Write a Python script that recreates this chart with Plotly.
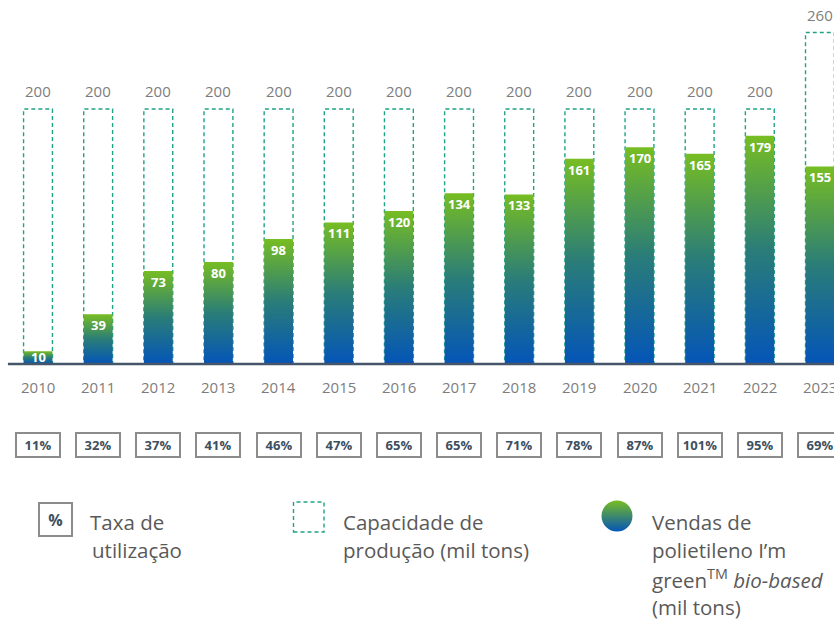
import plotly.graph_objects as go

years = ["2010", "2011", "2012", "2013", "2014", "2015", "2016",
         "2017", "2018", "2019", "2020", "2021", "2022", "2023"]
vendas = [10, 39, 73, 80, 98, 111, 120, 134, 133, 161, 170, 165, 179, 155]
capacidade = [200, 200, 200, 200, 200, 200, 200, 200, 200, 200, 200, 200, 200, 260]
utilizacao = ["11%", "32%", "37%", "41%", "46%", "47%", "65%", "65%", "71%",
              "78%", "87%", "101%", "95%", "69%"]

W, H = 834, 620
FONT = "Open Sans"
BLUE = "#0455b8"
GREEN = "#77bd22"
TEAL = "#1fa384"
GRAY_TXT = "#7d7d7d"
DARK = "#3d4f60"
BOX_GRAY = "#8c8c8c"
LEG_TXT = "#595959"

PITCH = 60.15      # px per category
PXU = 1.275        # px per unit (mil tons)
X0PX, BASEPX = 38, 364
HALF = 0.24        # bar half width in category units


def px(p):
    return p / W


def py(p):
    return 1 - p / H


fig = go.Figure()

shapes = []
annotations = []
for i, (yr, v, c, u) in enumerate(zip(years, vendas, capacidade, utilizacao)):
    # capacity dashed box
    shapes.append(dict(type="rect", xref="x", yref="y", x0=i - HALF, x1=i + HALF,
                       y0=0, y1=c, layer="below",
                       line=dict(color=TEAL, width=1.4, dash="4px,3px")))
    # sales bar with gradient
    fig.add_trace(go.Scatter(
        x=[i - HALF, i + HALF, i + HALF, i - HALF, i - HALF],
        y=[0, 0, v, v, 0], mode="lines", fill="toself",
        line=dict(width=0, color=GREEN),
        fillgradient=dict(type="vertical", start=0, stop=v,
                          colorscale=[[0, BLUE], [0.5, "#2a7d78"], [1, GREEN]]),
        hoverinfo="skip", showlegend=False))
    # value label (kept inside the bar, above the baseline)
    shift = -min(11, v * PXU - 7)
    annotations.append(dict(x=i, y=v, xref="x", yref="y", text=f"<b>{v}</b>",
                            showarrow=False, yshift=shift, xanchor="center", yanchor="middle",
                            font=dict(family=FONT, size=13, color="white")))
    # capacity label
    annotations.append(dict(x=i, y=c, xref="x", yref="y", text=str(c),
                            showarrow=False, yshift=18, xanchor="center", yanchor="middle",
                            font=dict(family=FONT, size=15, color=GRAY_TXT)))
    # year label
    annotations.append(dict(x=i, y=-(387 - BASEPX) / PXU, xref="x", yref="y", text=yr,
                            showarrow=False, xanchor="center", yanchor="middle",
                            font=dict(family=FONT, size=15, color=GRAY_TXT)))
    # utilization box
    annotations.append(dict(x=i, y=-(445 - BASEPX) / PXU, xref="x", yref="y",
                            text=f"<b>{u}</b>", showarrow=False,
                            xanchor="center", yanchor="middle",
                            width=42, height=22, borderwidth=2, bordercolor=BOX_GRAY,
                            borderpad=0, align="center", valign="middle",
                            font=dict(family=FONT, size=13, color=DARK)))

# baseline
shapes.append(dict(type="line", xref="x", yref="y", x0=-0.5, x1=14, y0=0, y1=0,
                   line=dict(color="#45566a", width=2.5), layer="above"))

# legend: utilization box
annotations.append(dict(x=px(55.5), y=py(519.5), xref="paper", yref="paper",
                        text="<b>%</b>", showarrow=False, width=31, height=31,
                        xanchor="center", yanchor="middle", align="center", valign="middle",
                        borderwidth=2, bordercolor=BOX_GRAY, borderpad=0,
                        font=dict(family=FONT, size=16, color=DARK)))
# legend: dashed capacity square
shapes.append(dict(type="rect", xref="paper", yref="paper",
                   x0=px(293.5), x1=px(324), y0=py(532), y1=py(502),
                   line=dict(color=TEAL, width=1.4, dash="4px,3px")))
# legend: gradient circle
fig.add_trace(go.Scatter(
    x=[(617 - X0PX) / PITCH], y=[-(516 - BASEPX) / PXU], mode="markers",
    marker=dict(size=31, color=GREEN, gradient=dict(type="vertical", color=BLUE),
                line=dict(width=0)),
    hoverinfo="skip", showlegend=False))

legend_lines = [
    (88, 522, "Taxa de"), (90, 550, "utilização"),
    (341, 522, "Capacidade de"), (341, 550, "produção (mil tons)"),
    (650, 522, "Vendas de"), (650, 550, "polietileno I’m"),
    (650, 579, "green<sup>TM</sup> <i>bio-based</i>"), (650, 607, "(mil tons)"),
]
for lx, ly, t in legend_lines:
    annotations.append(dict(x=px(lx), y=py(ly), xref="paper", yref="paper", text=t,
                            showarrow=False, xanchor="left", yanchor="middle",
                            font=dict(family=FONT, size=20.5, color=LEG_TXT)))

fig.update_layout(
    width=W, height=H, margin=dict(l=0, r=0, t=0, b=0),
    paper_bgcolor="white", plot_bgcolor="white", showlegend=False,
    xaxis=dict(range=[-X0PX / PITCH, (W - X0PX) / PITCH], visible=False, fixedrange=True),
    yaxis=dict(range=[-(H - BASEPX) / PXU, BASEPX / PXU], visible=False, fixedrange=True),
    shapes=shapes, annotations=annotations,
)

fig.write_html("out.html", config={"displayModeBar": False},
               post_script="document.body.style.margin='0';document.body.style.overflow='hidden';")
